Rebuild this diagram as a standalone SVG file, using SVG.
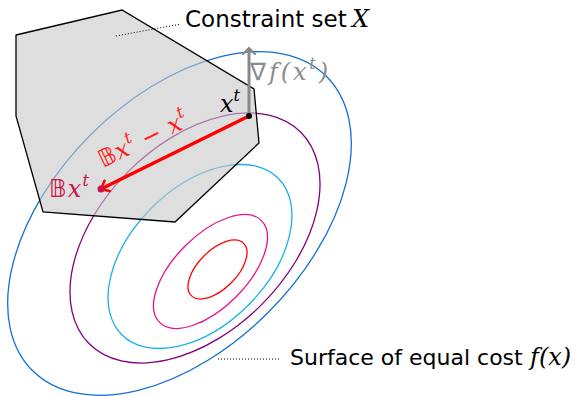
<svg xmlns="http://www.w3.org/2000/svg" width="584" height="396" viewBox="0 0 584 396">
<defs>
<style>
.c{fill:none;stroke-width:1.3}
.lbl{font-family:"DejaVu Sans",sans-serif;fill:#000}
.m{font-family:"DejaVu Serif","Liberation Serif",serif;font-style:italic;font-size:24px}
.bb{font-family:"DejaVu Sans","DejaVu Serif",serif;font-style:normal}
.lead{stroke:#000;stroke-width:1;stroke-dasharray:1 2;fill:none}
</style>
<marker id="chevR" viewBox="-8 -7 10 14" markerWidth="10" markerHeight="14" markerUnits="userSpaceOnUse" orient="auto" refX="0" refY="0">
<path d="M-7,-6 L0,0 L-7,6" fill="none" stroke="#ff0000" stroke-width="2.5" stroke-linecap="round"/>
</marker>
<marker id="chevG" viewBox="-8 -7 10 14" markerWidth="10" markerHeight="14" markerUnits="userSpaceOnUse" orient="auto" refX="0" refY="0">
<path d="M-6,-6 L0,0 L-6,6" fill="none" stroke="#888" stroke-width="2.2" stroke-linecap="round"/>
</marker>
</defs>
<rect width="584" height="396" fill="#fff"/>
<g id="contours">
<ellipse class="c" cx="179.5" cy="223.5" rx="208" ry="125.6" transform="rotate(-45 179.5 223.5)" stroke="#1470d0"/>
<ellipse class="c" cx="195" cy="238" rx="149.6" ry="94.2" transform="rotate(-45 195 238)" stroke="#800080"/>
<ellipse class="c" cx="200" cy="256.5" rx="110.6" ry="68.5" transform="rotate(-45 200 256.5)" stroke="#1ab0ea"/>
<ellipse class="c" cx="210.5" cy="271.5" rx="72" ry="36" transform="rotate(-45 210.5 271.5)" stroke="#e8108c"/>
<ellipse class="c" cx="217.5" cy="269.5" rx="37" ry="19.2" transform="rotate(-45 217.5 269.5)" stroke="#ff0000"/>
</g>
<g id="constraint-set">
<polygon points="16,35 122,10 254,89 259,143 175,222 43,212 16,116" fill="#c8c8c8" fill-opacity="0.6" stroke="none"/>
<polygon points="16,35 122,10 254,89 259,143 175,222 43,212 16,116" fill="none" stroke="#000" stroke-width="1.3"/>
</g>
<g id="connectors">
<line x1="249" y1="116" x2="249" y2="48" stroke="#888" stroke-width="3" marker-end="url(#chevG)"/>
<line x1="249" y1="116" x2="101" y2="189" stroke="#ff0000" stroke-width="3.5" marker-end="url(#chevR)"/>
<path class="lead" d="M116,36 L181,24"/>
<path class="lead" d="M218,359 L281,359"/>
</g>
<g id="xt">
<circle cx="249" cy="116" r="3" fill="#000"/>
<text class="m" x="220" y="112" fill="#000">x<tspan font-size="16" dy="-11">t</tspan></text>
</g>
<g id="bxt">
<circle cx="101" cy="189" r="3.5" fill="#cc1048"/>
<text class="m" x="49" y="197" fill="#cc1048" textLength="40" lengthAdjust="spacing"><tspan class="bb">𝔹</tspan>x<tspan font-size="16" dy="-11">t</tspan></text>
</g>
<g id="grad-label">
<text class="m" x="250" y="80" fill="#8c8c8c" textLength="78" lengthAdjust="spacing"><tspan class="bb">∇</tspan>f(x<tspan font-size="16" dy="-11">t</tspan><tspan dy="11">)</tspan></text>
</g>
<g id="diff-label">
<text class="m" transform="translate(103,168) rotate(-26)" fill="#ff1a1a" textLength="97" lengthAdjust="spacing"><tspan class="bb">𝔹</tspan>x<tspan font-size="16" dy="-11">t</tspan><tspan dy="11" style="font-style:normal"> − </tspan>x<tspan font-size="16" dy="-11">t</tspan></text>
</g>
<g id="label-constraint">
<text class="lbl" x="185" y="27" font-size="23">Constraint set</text>
<text class="m" x="352" y="27" font-size="25">X</text>
</g>
<g id="label-surface">
<text class="lbl" x="290" y="365" font-size="22">Surface of equal cost</text>
<text class="m" x="530" y="365" font-size="26">f(x)</text>
</g>
</svg>
